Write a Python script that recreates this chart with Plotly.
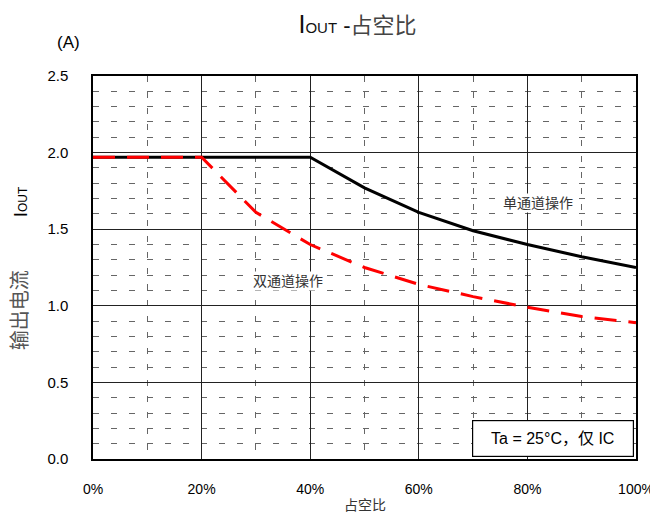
import plotly.graph_objects as go

duty = [0, 10, 20, 30, 40, 50, 60, 70, 80, 90, 100]
single_ch = [1.97, 1.97, 1.97, 1.97, 1.97, 1.77, 1.61, 1.49, 1.40, 1.32, 1.25]
dual_ch = [1.97, 1.97, 1.97, 1.61, 1.40, 1.25, 1.14, 1.06, 0.99, 0.93, 0.89]
x_ticks = [0, 20, 40, 60, 80, 100]
x_labels = ["0%", "20%", "40%", "60%", "80%", "100%"]
y_ticks = [0.0, 0.5, 1.0, 1.5, 2.0, 2.5]
y_labels = ["0.0", "0.5", "1.0", "1.5", "2.0", "2.5"]

FONT = "Liberation Sans, Arial, Noto Sans CJK SC"

fig = go.Figure()
fig.add_trace(go.Scatter(x=duty, y=single_ch, mode="lines",
                         line=dict(color="black", width=3), showlegend=False))
fig.add_trace(go.Scatter(x=duty, y=dual_ch, mode="lines",
                         line=dict(color="#ff0000", width=3, dash="22px,12px"),
                         showlegend=False))

title_txt = ("<span style='font-size:25px'>I</span>"
             "<span style='font-size:15px'>OUT</span> -"
             "<span style='color:#444'>占空比</span>")

# page body has an 8px margin, so the figure is sized/offset accordingly
fig.update_layout(
    width=650, height=508,
    margin=dict(l=85, r=22, t=68, b=57, autoexpand=False),
    paper_bgcolor="white", plot_bgcolor="white",
    font=dict(family=FONT, color="black", size=14),
    title=dict(text=title_txt, x=0.5377, xanchor="center",
               y=0.966, yanchor="middle",
               font=dict(size=22, family=FONT, color="#111")),
    xaxis=dict(range=[0, 100], tickvals=x_ticks, ticktext=x_labels,
               showline=True, linecolor="black", linewidth=1.5, mirror=True,
               showgrid=True, gridcolor="#222", gridwidth=1,
               ticks="", ticklabelstandoff=16, automargin=False,
               tickfont=dict(size=14, family=FONT),
               minor=dict(dtick=10, tick0=0, showgrid=True, gridcolor="#666",
                          gridwidth=1, griddash="6px,10px"),
               zeroline=False),
    yaxis=dict(range=[0, 2.5], tickvals=y_ticks, ticktext=y_labels,
               showline=True, linecolor="black", linewidth=1.5, mirror=True,
               showgrid=True, gridcolor="#222", gridwidth=1,
               ticks="", ticklabelstandoff=20, automargin=False,
               tickfont=dict(size=15, family=FONT),
               minor=dict(dtick=0.1, tick0=0, showgrid=True, gridcolor="#666",
                          gridwidth=1, griddash="6px,12px"),
               zeroline=False),
)

fig.add_annotation(text="(A)", xref="paper", yref="paper", x=-0.02, y=1.087,
                   xanchor="right", yanchor="middle", showarrow=False,
                   font=dict(size=17, family=FONT))
fig.add_annotation(text="I<span style='font-size:12px'>OUT</span>",
                   xref="paper", yref="paper",
                   x=-0.134, y=0.671, xanchor="center", yanchor="middle",
                   textangle=-90, showarrow=False, font=dict(size=19, family=FONT))
fig.add_annotation(text="输出电流", xref="paper", yref="paper",
                   x=-0.134, y=0.389, xanchor="center", yanchor="middle",
                   textangle=-90, showarrow=False,
                   font=dict(size=20, family=FONT, color="#555"))
fig.add_annotation(text="占空比", xref="paper", yref="paper", x=0.5, y=-0.12,
                   xanchor="center", yanchor="middle", showarrow=False,
                   font=dict(size=14, family=FONT, color="#333"))
fig.add_annotation(text="单通道操作", x=82, y=1.67, showarrow=False,
                   bgcolor="white", font=dict(size=14, family=FONT, color="#333"))
fig.add_annotation(text="双通道操作", x=36, y=1.16, showarrow=False,
                   bgcolor="white", font=dict(size=14, family=FONT, color="#333"))
fig.add_annotation(text="&nbsp;&nbsp;Ta = 25°C，仅 IC&nbsp;&nbsp;", xref="paper", yref="paper",
                   x=0.9963, y=0.005, xanchor="right", yanchor="bottom",
                   showarrow=False, bgcolor="white", bordercolor="black",
                   borderwidth=1.2, borderpad=9,
                   font=dict(size=16, family=FONT))

fig.write_html("out.html")
